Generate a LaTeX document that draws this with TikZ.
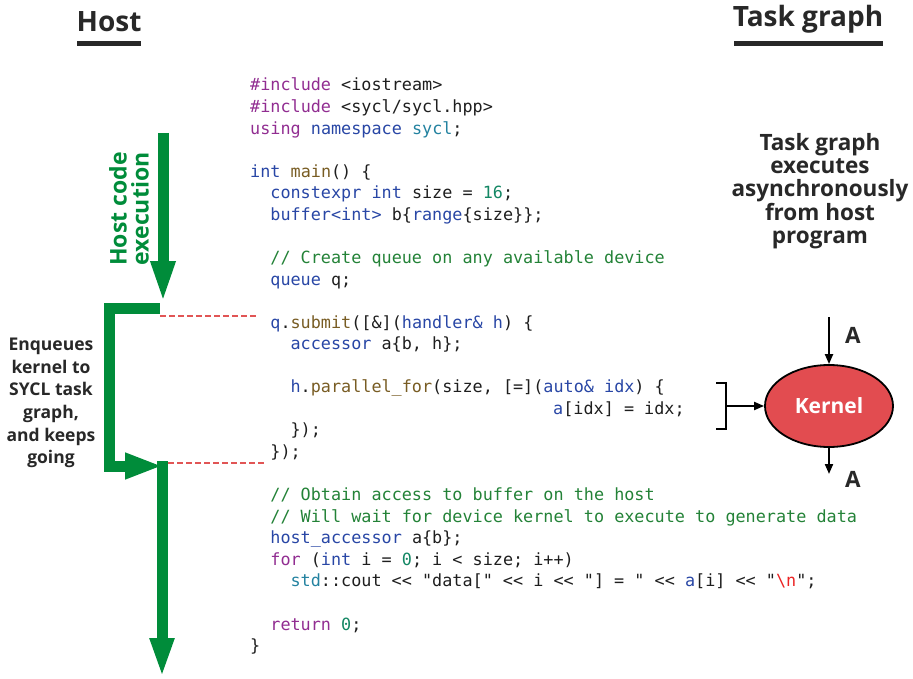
\documentclass[tikz,border=0pt]{standalone}
\usepackage{fontspec}
\setmainfont{Open Sans}
\setmonofont{DejaVu Sans Mono}
\usetikzlibrary{arrows.meta,shapes.geometric}

% palette
\definecolor{hostgreen}{RGB}{0,140,58}
\definecolor{dashred}{RGB}{225,85,85}
\definecolor{kernelred}{RGB}{226,76,80}
\definecolor{labelgray}{RGB}{40,40,40}
\definecolor{codeblack}{RGB}{30,30,30}
\definecolor{kwpurple}{RGB}{145,45,145}
\definecolor{kwblue}{RGB}{40,70,165}
\definecolor{kwteal}{RGB}{35,130,160}
\definecolor{kwbrown}{RGB}{120,92,35}
\definecolor{kwgreen}{RGB}{35,130,55}
\definecolor{kwnum}{RGB}{20,135,100}
\definecolor{kwred}{RGB}{235,35,35}

% syntax colouring helpers
\newcommand\kwP[1]{\textcolor{kwpurple}{#1}}
\newcommand\kwB[1]{\textcolor{kwblue}{#1}}
\newcommand\kwT[1]{\textcolor{kwteal}{#1}}
\newcommand\kwF[1]{\textcolor{kwbrown}{#1}}
\newcommand\kwC[1]{\textcolor{kwgreen}{#1}}
\newcommand\kwN[1]{\textcolor{kwnum}{#1}}
\newcommand\kwR[1]{\textcolor{kwred}{#1}}

% one source line: name, column, line number, text
\newcommand\codeline[4]{\node[codetext] (#1) at ({250+#2*10.1},{91+(#3-1)*21.56}) {#4};}

\begin{document}
\begin{tikzpicture}[x=1pt,y=-1pt,
  codetext/.style={anchor=base west, inner sep=0pt, text=codeblack,
    font=\ttfamily\fontsize{16.8}{20}\selectfont},
  title/.style={anchor=base, inner sep=0pt, text=labelgray,
    font=\bfseries\fontsize{28}{30}\selectfont},
  underbar/.style={line width=5pt, labelgray},
  note/.style={align=center, inner sep=0pt, text=labelgray},
  greenflow/.style={draw=hostgreen, line width=11pt, line join=miter},
  syncline/.style={draw=dashred, line width=2.6pt, dash pattern=on 6pt off 3pt},
  flowarrow/.style={draw=black, line width=2pt, -{Triangle[length=10pt,width=8pt]}},
  albl/.style={anchor=base, inner sep=0pt, text=labelgray,
    font=\bfseries\fontsize{22.5}{24}\selectfont}
]
\useasboundingbox (0,0) rectangle (913,679);

% column headings
\node[title] (hosttitle) at (109,32) {Host};
\draw[underbar] (77,44) -- (141,44);
\node[title] (tgtitle) at (808,27) {Task graph};
\draw[underbar] (734,44) -- (883,44);

% host-side timeline
\coordinate (h1) at (163,133);
\coordinate (h1tip) at (163,304);
\draw[greenflow, -{Triangle[length=43pt,width=22pt]}] (h1) -- (h1tip);

\coordinate (e1) at (160,308);
\coordinate (ecorner) at (109,308);
\coordinate (e2) at (163,466);
\draw[greenflow, -{Triangle[length=38pt,width=24pt]}] (e1) -- (ecorner) |- (e2);

\coordinate (h2) at (162,461);
\coordinate (h2tip) at (162,678);
\draw[greenflow, -{Triangle[length=40pt,width=22pt]}] (h2) -- (h2tip);

\node[note, rotate=90, text=hostgreen,
      font=\bfseries\fontsize{23}{22}\selectfont] (hostexec) at (129,209)
      {Host code\\execution};
\node[note, font=\bfseries\fontsize{17.5}{22.6}\selectfont] (enq) at (51,403)
      {Enqueues\\kernel to\\SYCL task\\graph,\\and keeps\\going};

% submit boundaries
\coordinate (d1a) at (160,316);
\coordinate (d1b) at (257,316);
\draw[syncline] (d1a) -- (d1b);
\coordinate (d2a) at (168,463);
\coordinate (d2b) at (265,463);
\draw[syncline] (d2a) -- (d2b);

% source code
\codeline{c1}{0}{1}{\kwP{\#include} <iostream>}
\codeline{c2}{0}{2}{\kwP{\#include} <sycl/sycl.hpp>}
\codeline{c3}{0}{3}{\kwP{using} \kwB{namespace} \kwT{sycl};}
\codeline{c5}{0}{5}{\kwB{int} \kwF{main}() \{}
\codeline{c6}{2}{6}{\kwB{constexpr int} size = \kwN{16};}
\codeline{c7}{2}{7}{\kwB{buffer<int>} b\{\kwB{range}\{size\}\};}
\codeline{c9}{2}{9}{\kwC{// Create queue on any available device}}
\codeline{c10}{2}{10}{\kwB{queue} q;}
\codeline{c12}{2}{12}{\kwB{q}.\kwF{submit}([\&](\kwB{handler\& h}) \{}
\codeline{c13}{4}{13}{\kwB{accessor} a\{b, h\};}
\codeline{c15}{4}{15}{\kwB{h}.\kwF{parallel\_for}(size, [=](\kwB{auto\& idx}) \{}
\codeline{c16}{30}{16}{\kwB{a}[idx] = idx;}
\codeline{c17}{4}{17}{\});}
\codeline{c18}{2}{18}{\});}
\codeline{c20}{2}{20}{\kwC{// Obtain access to buffer on the host}}
\codeline{c21}{2}{21}{\kwC{// Will wait for device kernel to execute to generate data}}
\codeline{c22}{2}{22}{\kwB{host\_accessor} a\{b\};}
\codeline{c23}{2}{23}{\kwP{for} (\kwB{int} i = \kwN{0}; i < size; i++)}
\codeline{c24}{4}{24}{\kwT{std}::cout << "data[" << i << "] = " << \kwB{a}[i] << "\kwR{\textbackslash n}";}
\codeline{c26}{2}{26}{\kwP{return} \kwN{0};}
\codeline{c27}{0}{27}{\}}

% task graph side
\node[note, font=\bfseries\fontsize{22.5}{23.3}\selectfont] (tgnote) at (820,191)
      {Task graph\\executes\\asynchronously\\from host\\program};

\node[ellipse, draw=black, line width=1.8pt, fill=kernelred,
      minimum width=128pt, minimum height=82pt, inner sep=0pt,
      text=white, font=\bfseries\fontsize{21}{24}\selectfont] (kernel) at (829,406) {Kernel};

\coordinate (ain) at (829,317);
\draw[flowarrow] (ain) -- (kernel.north);
\node[albl] (alabin) at (853,343) {A};
\coordinate (aout) at (829,474);
\draw[flowarrow] (kernel.south) -- (aout);
\node[albl] (alabout) at (853,487) {A};

\coordinate (brt) at (716,383);
\draw[line width=2pt, black] (brt) -- ++(10,0) -- ++(0,46) -- ++(-10,0);
\coordinate (brm) at (726,406);
\draw[flowarrow] (brm) -- (kernel.west);
\end{tikzpicture}
\end{document}
